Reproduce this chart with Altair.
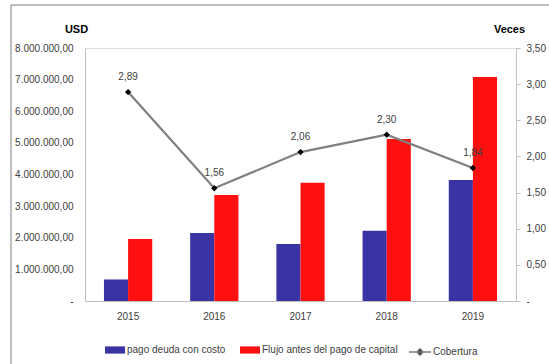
import altair as alt
import pandas as pd

years = ["2015", "2016", "2017", "2018", "2019"]
pago = [680000, 2150000, 1800000, 2220000, 3830000]
flujo = [1960000, 3350000, 3740000, 5120000, 7080000]
cobertura = [2.89, 1.56, 2.06, 2.30, 1.84]
series = ["pago deuda con costo", "Flujo antes del pago de capital"]
line_name = "Cobertura"
usd_ticks = [0, 1e6, 2e6, 3e6, 4e6, 5e6, 6e6, 7e6, 8e6]
veces_ticks = [0, 0.5, 1.0, 1.5, 2.0, 2.5, 3.0, 3.5]

bars_df = pd.DataFrame(
    [{"anio": y, "serie": series[0], "valor": v} for y, v in zip(years, pago)]
    + [{"anio": y, "serie": series[1], "valor": v} for y, v in zip(years, flujo)]
)
line_df = pd.DataFrame({"anio": years, "cob": cobertura, "serie": [line_name] * len(years)})

FONT = "Liberation Sans, Arial, sans-serif"
TXT = "#404040"
FS = 10

xenc = alt.X("anio:N", sort=years, title=None,
             scale=alt.Scale(paddingInner=0.44, paddingOuter=0.22),
             axis=alt.Axis(labelAngle=0, ticks=False, labelPadding=10, domainColor="#BFBFBF",
                           labelFont=FONT, labelFontSize=FS, labelColor=TXT))

bars = alt.Chart(bars_df).mark_bar().encode(
    x=xenc,
    xOffset=alt.XOffset("serie:N", sort=series, scale=alt.Scale(paddingInner=0, paddingOuter=0)),
    y=alt.Y("valor:Q", scale=alt.Scale(domain=[0, 8e6], nice=False),
            axis=alt.Axis(values=usd_ticks, grid=False, ticks=False, labelPadding=12,
                          labelOverlap=False, labelFlush=False,
                          domainColor="#BFBFBF", labelFont=FONT, labelFontSize=FS, labelColor=TXT,
                          labelExpr="datum.value == 0 ? '-' : format(datum.value/1000000, 'd') + '.000.000,00'",
                          title="USD", titleAngle=0, titleX=-9, titleY=-19, titleAlign="center",
                          titleBaseline="middle", titleFont=FONT, titleFontSize=11,
                          titleFontWeight="bold", titleColor="black")),
    color=alt.Color("serie:N", sort=series,
                    scale=alt.Scale(domain=series, range=["#3A33A3", "#FF1010"]),
                    legend=alt.Legend(title=None, orient="none", direction="horizontal",
                                      legendX=20, legendY=292, columnPadding=14,
                                      symbolType="M-1,-0.36H1V0.36H-1Z", symbolSize=400,
                                      symbolStrokeWidth=0, labelFont=FONT, labelFontSize=FS,
                                      labelColor=TXT, labelOffset=2, labelLimit=300)),
)

right_axis = alt.Axis(orient="right", values=veces_ticks, grid=False, tickSize=4,
                      labelOverlap=False, labelFlush=False,
                      tickColor="#BFBFBF", labelPadding=6, domainColor="#BFBFBF",
                      labelFont=FONT, labelFontSize=FS, labelColor=TXT,
                      labelExpr="datum.value == 0 ? '-' : replace(format(datum.value, '.2f'), '.', ',')",
                      title="Veces", titleAngle=0, titleX=-7, titleY=-19, titleAlign="center",
                      titleBaseline="middle", titleFont=FONT, titleFontSize=11,
                      titleFontWeight="bold", titleColor="black")
rscale = alt.Scale(domain=[0, 3.5], nice=False)

line = alt.Chart(line_df).mark_line(strokeWidth=2.2).encode(
    x=alt.X("anio:N", sort=years),
    y=alt.Y("cob:Q", scale=rscale, axis=right_axis),
    stroke=alt.Stroke("serie:N", scale=alt.Scale(domain=[line_name], range=["#7F7F7F"]),
                      legend=alt.Legend(title=None, orient="none", legendX=323, legendY=292,
                                        symbolType="M-1,0H1M-0.3,0L0,-0.3L0.3,0L0,0.3Z",
                                        symbolSize=484, symbolStrokeWidth=1.5,
                                        symbolFillColor="black",
                                        labelFont=FONT, labelFontSize=FS, labelColor=TXT,
                                        labelOffset=1)),
)

pts = alt.Chart(line_df).mark_point(shape="diamond", filled=True, color="black", size=40, opacity=1).encode(
    x=alt.X("anio:N", sort=years),
    y=alt.Y("cob:Q", scale=rscale, axis=right_axis),
)

labels = alt.Chart(line_df).transform_calculate(
    lab="replace(format(datum.cob, '.2f'), '.', ',')"
).mark_text(dy=-15, font=FONT, fontSize=FS, color=TXT).encode(
    x=alt.X("anio:N", sort=years),
    y=alt.Y("cob:Q", scale=rscale, axis=right_axis),
    text="lab:N",
)

right = alt.layer(line, pts, labels)

border = alt.Chart(alt.Data(values=[{"k": 1}])).mark_rect(
    fill=None, stroke="#7F7F7F", strokeWidth=1, clip=False
).encode(x=alt.value(-74), x2=alt.value(480), y=alt.value(-43), y2=alt.value(340))

chart = alt.layer(border, bars, right).resolve_scale(
    y="independent", color="independent", stroke="independent"
).properties(
    width=431, height=253,
    autosize=alt.AutoSizeParams(type="none"),
    padding={"left": 85, "top": 48, "right": 33, "bottom": 63},
).configure_view(stroke=None).configure(background="white")

chart.save("out.html", embed_options={"renderer": "svg", "actions": False})
